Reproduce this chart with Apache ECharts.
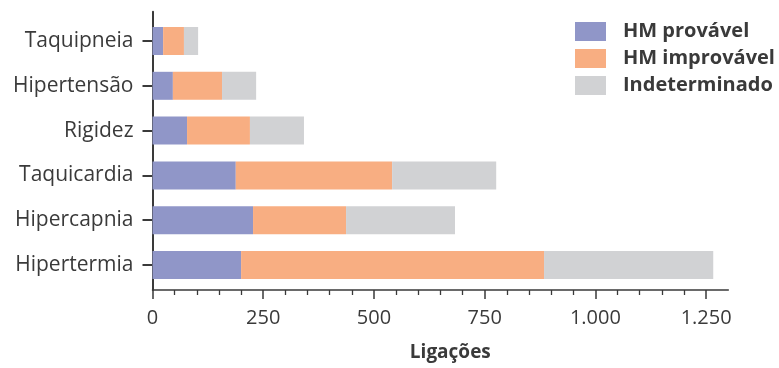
<!DOCTYPE html>
<html>
<head>
<meta charset="utf-8">
<script src="https://cdn.jsdelivr.net/npm/echarts@6/dist/echarts.min.js"></script>
<style>
  html, body { margin: 0; padding: 0; background: #ffffff; }
  #chart { width: 779px; height: 368px; }
</style>
</head>
<body>
<div id="chart"></div>
<script>
// Signs, top to bottom
const categories = ['Taquipneia', 'Hipertensão', 'Rigidez', 'Taquicardia', 'Hipercapnia', 'Hipertermia'];

// Calls per classification (stacked segments)
const hmProvavel    = [24, 46, 78, 188, 227, 200];
const hmImprovavel  = [47, 111, 142, 353, 210, 684];
const indeterminado = [32, 77, 122, 235, 246, 382];

const seriesNames = ['HM provável', 'HM improvável', 'Indeterminado'];
const seriesColors = ['#9096C8', '#F8AE82', '#D1D2D4'];

// Value axis
const axisMax = 1300;
const labelMax = 1250;
const majorStep = 250;
const minorSplit = 5;
const axisName = 'Ligações';

const textColor = '#3a3a3a';
const lineColor = '#3a3a3a';
const font = 'Open Sans';

const chart = echarts.init(document.getElementById('chart'), null, { renderer: 'canvas' });

const plotLeft = 152.5;
const plotRight = 728.3;
const pxPerUnit = (plotRight - plotLeft) / axisMax;
const tickRight = plotLeft + labelMax * pxPerUnit;

function fmt(v) {
  return String(v).replace(/\B(?=(\d{3})+(?!\d))/g, '.');
}

const option = {
  backgroundColor: '#ffffff',
  animation: false,
  legend: {
    orient: 'vertical',
    left: 575,
    top: 21.5,
    padding: 0,
    itemWidth: 31,
    itemHeight: 19,
    itemGap: 7,
    icon: 'rect',
    data: seriesNames,
    textStyle: {
      fontFamily: font,
      fontWeight: 'bold',
      fontSize: 20,
      color: textColor,
      padding: [0, 0, 0, 12]
    }
  },
  grid: [
    // bars
    { left: plotLeft, width: plotRight - plotLeft, top: 18.6, height: 268.8 },
    // axis frame
    { left: plotLeft, width: plotRight - plotLeft, top: 11.7, height: 278.3 },
    // ticks and labels up to the last labelled value
    { left: plotLeft, width: tickRight - plotLeft, top: 11.7, height: 278.3 }
  ],
  xAxis: [
    { gridIndex: 0, type: 'value', min: 0, max: axisMax, show: false },
    {
      gridIndex: 1, type: 'value', min: 0, max: axisMax,
      axisLine: { show: true, lineStyle: { color: lineColor, width: 1.5 } },
      axisTick: { show: false }, axisLabel: { show: false }, splitLine: { show: false }
    },
    {
      gridIndex: 2, type: 'value', min: 0, max: labelMax, interval: majorStep,
      axisLine: { show: false },
      axisTick: { show: true, length: 9, lineStyle: { color: lineColor, width: 1.5 } },
      minorTick: { show: true, splitNumber: minorSplit, length: 5, lineStyle: { color: lineColor, width: 1.3 } },
      splitLine: { show: false },
      axisLabel: {
        margin: 18,
        fontFamily: font, fontSize: 20, color: textColor,
        formatter: fmt
      },
      name: axisName,
      nameLocation: 'middle',
      nameGap: 53,
      nameTextStyle: {
        fontFamily: font, fontWeight: 'bold', fontSize: 19, color: textColor,
        padding: [0, 0, 0, 42]
      }
    }
  ],
  yAxis: [
    {
      gridIndex: 0, type: 'category', data: categories, inverse: true,
      axisLine: { show: false },
      axisTick: { show: true, alignWithLabel: true, length: 10, lineStyle: { color: lineColor, width: 2 } },
      axisLabel: { margin: 19, fontFamily: font, fontSize: 21, color: textColor }
    },
    {
      gridIndex: 1, type: 'value',
      axisLine: { show: true, lineStyle: { color: lineColor, width: 2 } },
      axisTick: { show: false }, axisLabel: { show: false }, splitLine: { show: false }
    },
    { gridIndex: 2, type: 'value', show: false }
  ],
  series: [hmProvavel, hmImprovavel, indeterminado].map((vals, i) => ({
    name: seriesNames[i],
    type: 'bar',
    stack: 'total',
    xAxisIndex: 0,
    yAxisIndex: 0,
    barWidth: 28,
    itemStyle: { color: seriesColors[i] },
    data: vals
  }))
};

chart.setOption(option);
</script>
</body>
</html>
